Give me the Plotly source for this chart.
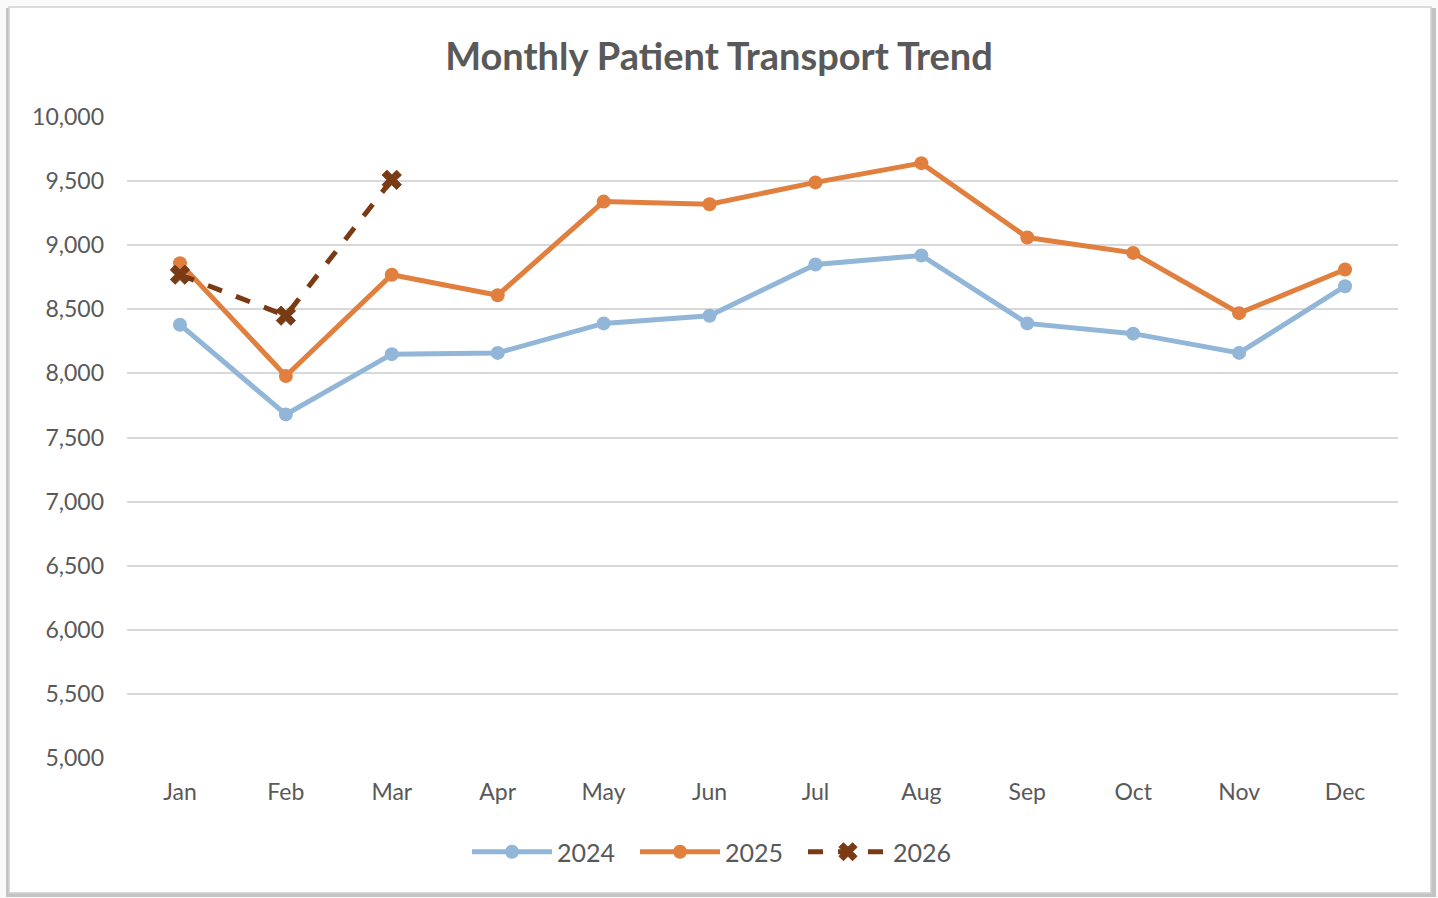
import plotly.graph_objects as go

months = ["Jan", "Feb", "Mar", "Apr", "May", "Jun", "Jul", "Aug", "Sep", "Oct", "Nov", "Dec"]
y2024 = [8380, 7680, 8150, 8160, 8390, 8450, 8850, 8920, 8390, 8310, 8160, 8680]
y2025 = [8860, 7980, 8770, 8610, 9340, 9320, 9490, 9640, 9060, 8940, 8470, 8810]
months2026 = ["Jan", "Feb", "Mar"]
y2026 = [8770, 8450, 9510]
yticks = [5000, 5500, 6000, 6500, 7000, 7500, 8000, 8500, 9000, 9500, 10000]

W, H = 1438, 898
L, R, T, B = 127, 1398, 117, 758

fig = go.Figure()
fig.add_trace(go.Scatter(x=months, y=y2024, name="2024", mode="lines+markers",
                         line=dict(color="#91B6D8", width=5),
                         marker=dict(size=14, color="#91B6D8")))
fig.add_trace(go.Scatter(x=months, y=y2025, name="2025", mode="lines+markers",
                         line=dict(color="#E07F3E", width=5),
                         marker=dict(size=14, color="#E07F3E")))
fig.add_trace(go.Scatter(x=months2026, y=y2026, name="2026", mode="lines+markers",
                         line=dict(color="#7A3A14", width=5, dash="dash"),
                         marker=dict(size=17, color="#7A3A14", symbol="x",
                                     line=dict(width=1, color="#7A3A14"))))

def px(x):
    return (x - L) / (R - L)

def py(y):
    return (B - y) / (B - T)

shapes = [
    # shadow
    dict(type="rect", xref="paper", yref="paper", x0=px(6), x1=px(1436), y0=py(897), y1=py(8),
         line=dict(width=0), fillcolor="rgba(0,0,0,0.22)", layer="below"),
    dict(type="rect", xref="paper", yref="paper", x0=px(9), x1=px(1431), y0=py(893), y1=py(7),
         line=dict(width=1.5, color="#D0D0D0"), fillcolor="white", layer="below"),
]

fig.update_layout(
    width=W, height=H,
    margin=dict(l=L, r=W - R, t=T, b=H - B),
    paper_bgcolor="#FAFAFA", plot_bgcolor="rgba(0,0,0,0)",
    font=dict(family="Lato, 'Open Sans', sans-serif", color="#595959", size=23),
    title=dict(text="<b>Monthly Patient Transport Trend</b>", x=0.5, xref="container",
               xanchor="center", y=1 - 57 / H, yanchor="middle", yref="container",
               font=dict(size=38, color="#595959")),
    xaxis=dict(type="category", categoryorder="array", categoryarray=months,
               range=[-0.5, 11.5], showgrid=False, showline=False, ticks="",
               tickfont=dict(size=23, color="#595959"), ticklabelstandoff=18),
    yaxis=dict(range=[5000, 10000], tickvals=yticks, tickformat=",d",
               showgrid=True, gridcolor="#D9D9D9", gridwidth=2, zeroline=False,
               showline=False, ticks="", tickfont=dict(size=23, color="#595959"),
               ticklabelstandoff=22),
    legend=dict(orientation="h", xref="container", yref="container", x=0.5, xanchor="center",
                y=1 - 852 / H, yanchor="middle", font=dict(size=25, color="#595959"),
                bgcolor="rgba(0,0,0,0)", itemwidth=80, entrywidth=73, entrywidthmode="pixels",
                traceorder="normal"),
    shapes=shapes,
    showlegend=True,
)

fig.write_html("out.html", config={"displayModeBar": False},
               post_script="document.body.style.margin='0';document.body.style.overflow='hidden';")
